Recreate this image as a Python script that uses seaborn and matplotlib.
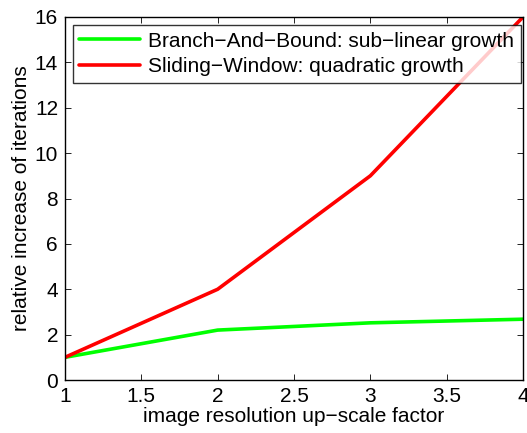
import matplotlib
matplotlib.use("Agg")
import matplotlib.pyplot as plt
import seaborn as sns
import pandas as pd

scale = [1, 2, 3, 4]
bnb = [1.0, 2.2, 2.52, 2.68]
sliding = [1.0, 4.0, 9.0, 16.0]
labels = ["Branch\u2212And\u2212Bound: sub\u2212linear growth",
          "Sliding\u2212Window: quadratic growth"]

df = pd.DataFrame({
    "scale": scale * 2,
    "value": bnb + sliding,
    "method": [labels[0]] * 4 + [labels[1]] * 4,
})

sns.set_style("ticks", {"axes.edgecolor": "black", "text.color": "black",
                        "xtick.color": "black", "ytick.color": "black",
                        "axes.labelcolor": "black"})
plt.rcParams["font.family"] = ["Liberation Sans", "DejaVu Sans"]

fig = plt.figure(figsize=(5.27, 4.33), dpi=100)
ax = fig.add_axes([65 / 527, 53 / 433, 458 / 527, 363 / 433])

sns.lineplot(data=df, x="scale", y="value", hue="method",
             palette={labels[0]: "#00ff00", labels[1]: "#ff0000"},
             linewidth=2.6, ax=ax)

ax.set_xlim(1, 4)
ax.set_ylim(0, 16)
ax.set_xticks([1, 1.5, 2, 2.5, 3, 3.5, 4])
ax.set_xticklabels(["1", "1.5", "2", "2.5", "3", "3.5", "4"])
ax.set_yticks(range(0, 17, 2))
ax.tick_params(direction="in", top=True, right=True, length=4, width=0.6,
               labelsize=15, pad=5)
for s in ax.spines.values():
    s.set_linewidth(1.0)
    s.set_visible(True)

ax.set_xlabel("image resolution up\u2212scale factor", fontsize=15, labelpad=1)
ax.set_ylabel("relative increase of iterations", fontsize=15, labelpad=3)

leg = ax.legend(loc="upper left", bbox_to_anchor=(0.017, 0.978), fontsize=15,
                frameon=True, fancybox=False, edgecolor="black",
                handlelength=2.9, borderpad=0.32, labelspacing=0.3,
                handletextpad=0.4, borderaxespad=0)
leg.get_frame().set_linewidth(1.0)

fig.savefig("out.png", dpi=100)
